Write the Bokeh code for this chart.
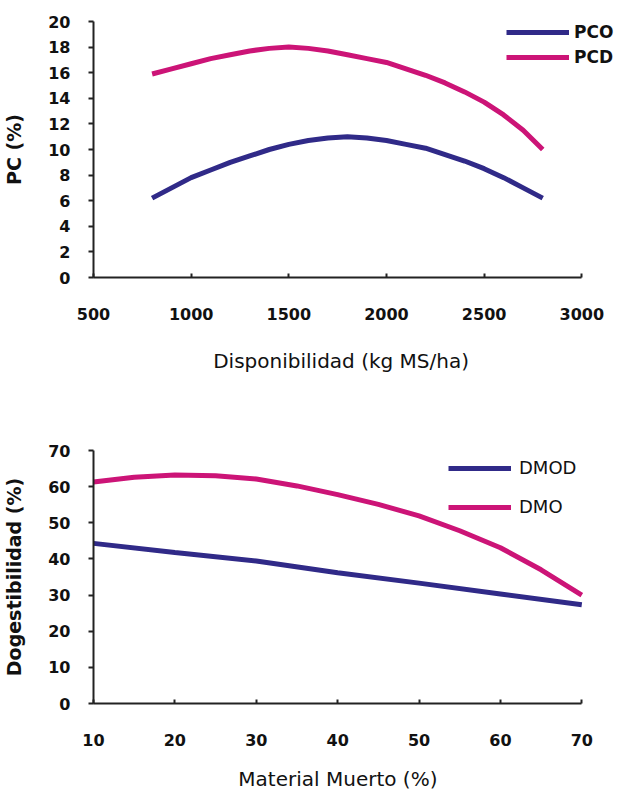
from bokeh.plotting import figure
from bokeh.layouts import column
from bokeh.models import FixedTicker, Range1d, Legend, LegendItem
from bokeh.embed import file_html
from bokeh.resources import INLINE

# ---- data: top chart (PC vs Disponibilidad) ----
disp = [800, 900, 1000, 1100, 1200, 1300, 1400, 1500, 1600, 1700, 1800,
        1900, 2000, 2100, 2200, 2300, 2400, 2500, 2600, 2700, 2800]
pco = [6.2, 7.0, 7.8, 8.4, 9.0, 9.5, 10.0, 10.4, 10.7, 10.9, 11.0,
       10.9, 10.7, 10.4, 10.1, 9.6, 9.1, 8.5, 7.8, 7.0, 6.2]
pcd = [15.9, 16.3, 16.7, 17.1, 17.4, 17.7, 17.9, 18.0, 17.9, 17.7, 17.4,
       17.1, 16.8, 16.3, 15.8, 15.2, 14.5, 13.7, 12.7, 11.5, 10.0]
x1_ticks = [500, 1000, 1500, 2000, 2500, 3000]
y1_ticks = [0, 2, 4, 6, 8, 10, 12, 14, 16, 18, 20]
legend1 = ["PCO", "PCD"]
x1_title = "Disponibilidad (kg MS/ha)"
y1_title = "PC (%)"

# ---- data: bottom chart (Digestibilidad vs Material Muerto) ----
mm_dmod = [10, 20, 30, 40, 50, 60, 70]
dmod = [44.3, 41.8, 39.4, 36.2, 33.3, 30.3, 27.3]
mm_dmo = [10, 15, 20, 25, 30, 35, 40, 45, 50, 55, 60, 65, 70]
dmo = [61.3, 62.6, 63.2, 63.0, 62.1, 60.2, 57.8, 55.1, 51.9, 47.8, 43.1, 37.0, 30.0]
x2_ticks = [10, 20, 30, 40, 50, 60, 70]
y2_ticks = [0, 10, 20, 30, 40, 50, 60, 70]
legend2 = ["DMOD", "DMO"]
x2_title = "Material Muerto (%)"
y2_title = "Dogestibilidad (%)"

BLUE = "#302a88"
PINK = "#cc1477"
FONT = "DejaVu Sans"
NBSP = "\u00a0"

# layout: frames run to the right edge so the legends are not clipped;
# the x axes themselves stop at their last tick (page pixel 589), as in the reference
FRAME_L, AXIS_R, FIG_R = 97, 589, 628
STRETCH = (FIG_R - FRAME_L) / (AXIS_R - FRAME_L)


def view_end(ticks):
    return ticks[0] + (ticks[-1] - ticks[0]) * STRETCH


def style(p, xticks, yticks, xlabel, ylabel, x_title_standoff, pad):
    p.xgrid.visible = False
    p.ygrid.visible = False
    p.outline_line_color = None
    p.background_fill_color = "white"
    p.border_fill_color = "white"
    p.xaxis.ticker = FixedTicker(ticks=xticks)
    p.yaxis.ticker = FixedTicker(ticks=yticks)
    p.xaxis.bounds = (xticks[0], xticks[-1])
    for ax in (p.xaxis, p.yaxis):
        ax.axis_line_width = 2
        ax.axis_line_color = "#222222"
        ax.major_tick_line_color = "#222222"
        ax.major_tick_line_width = 2
        ax.minor_tick_line_color = None
        ax.major_label_text_font = FONT
        ax.major_label_text_font_style = "bold"
        ax.major_label_text_color = "#111111"
        ax.major_label_text_font_size = "16px"
        ax.axis_label_text_color = "#111111"
        ax.axis_label_text_font = FONT
    p.xaxis.major_tick_in = 4
    p.xaxis.major_tick_out = 0
    p.xaxis.major_label_standoff = 30
    # trailing no-break spaces move the centred title back under the axis itself
    p.xaxis.axis_label = xlabel + NBSP * pad
    p.xaxis.axis_label_text_font_style = "normal"
    p.xaxis.axis_label_text_font_size = "20px"
    p.xaxis.axis_label_standoff = x_title_standoff
    p.yaxis.major_tick_in = 0
    p.yaxis.major_tick_out = 5
    p.yaxis.major_label_standoff = 18
    p.yaxis.axis_label = ylabel
    p.yaxis.axis_label_text_font_style = "bold"
    p.yaxis.axis_label_text_font_size = "19px"
    p.yaxis.axis_label_standoff = 20


# ---- top figure ----
p1 = figure(width=620, height=393, output_backend="svg", toolbar_location=None,
            x_range=Range1d(x1_ticks[0], view_end(x1_ticks)), y_range=Range1d(0, 20),
            min_border_left=89, min_border_right=0, min_border_top=21,
            min_border_bottom=116)
r1 = p1.line(disp, pco, line_color=BLUE, line_width=5)
r2 = p1.line(disp, pcd, line_color=PINK, line_width=5)
style(p1, x1_ticks, y1_ticks, x1_title, y1_title, 26, 5)
leg1 = Legend(items=[LegendItem(label=legend1[0], renderers=[r1]),
                     LegendItem(label=legend1[1], renderers=[r2])],
              location=(413, 210), margin=0, padding=0, spacing=5,
              glyph_width=63, glyph_height=20, label_height=20,
              label_standoff=5, border_line_alpha=0, background_fill_alpha=0,
              label_text_font=FONT, label_text_font_style="bold",
              label_text_font_size="17px", label_text_color="#111111")
p1.add_layout(leg1)

# ---- bottom figure ----
p2 = figure(width=620, height=400, output_backend="svg", toolbar_location=None,
            x_range=Range1d(x2_ticks[0], view_end(x2_ticks)), y_range=Range1d(0, 70),
            min_border_left=89, min_border_right=0, min_border_top=57,
            min_border_bottom=90)
r3 = p2.line(mm_dmod, dmod, line_color=BLUE, line_width=5)
r4 = p2.line(mm_dmo, dmo, line_color=PINK, line_width=5)
style(p2, x2_ticks, y2_ticks, x2_title, y2_title, 18, 6)
leg2 = Legend(items=[LegendItem(label=legend2[0], renderers=[r3]),
                     LegendItem(label=legend2[1], renderers=[r4])],
              location=(355, 186), margin=0, padding=0, spacing=18,
              glyph_width=63, glyph_height=20, label_height=20,
              label_standoff=8, border_line_alpha=0, background_fill_alpha=0,
              label_text_font=FONT, label_text_font_style="normal",
              label_text_font_size="18px", label_text_color="#111111")
p2.add_layout(leg2)

layout = column(p1, p2, spacing=0)
open("out.html", "w").write(file_html(layout, INLINE))
